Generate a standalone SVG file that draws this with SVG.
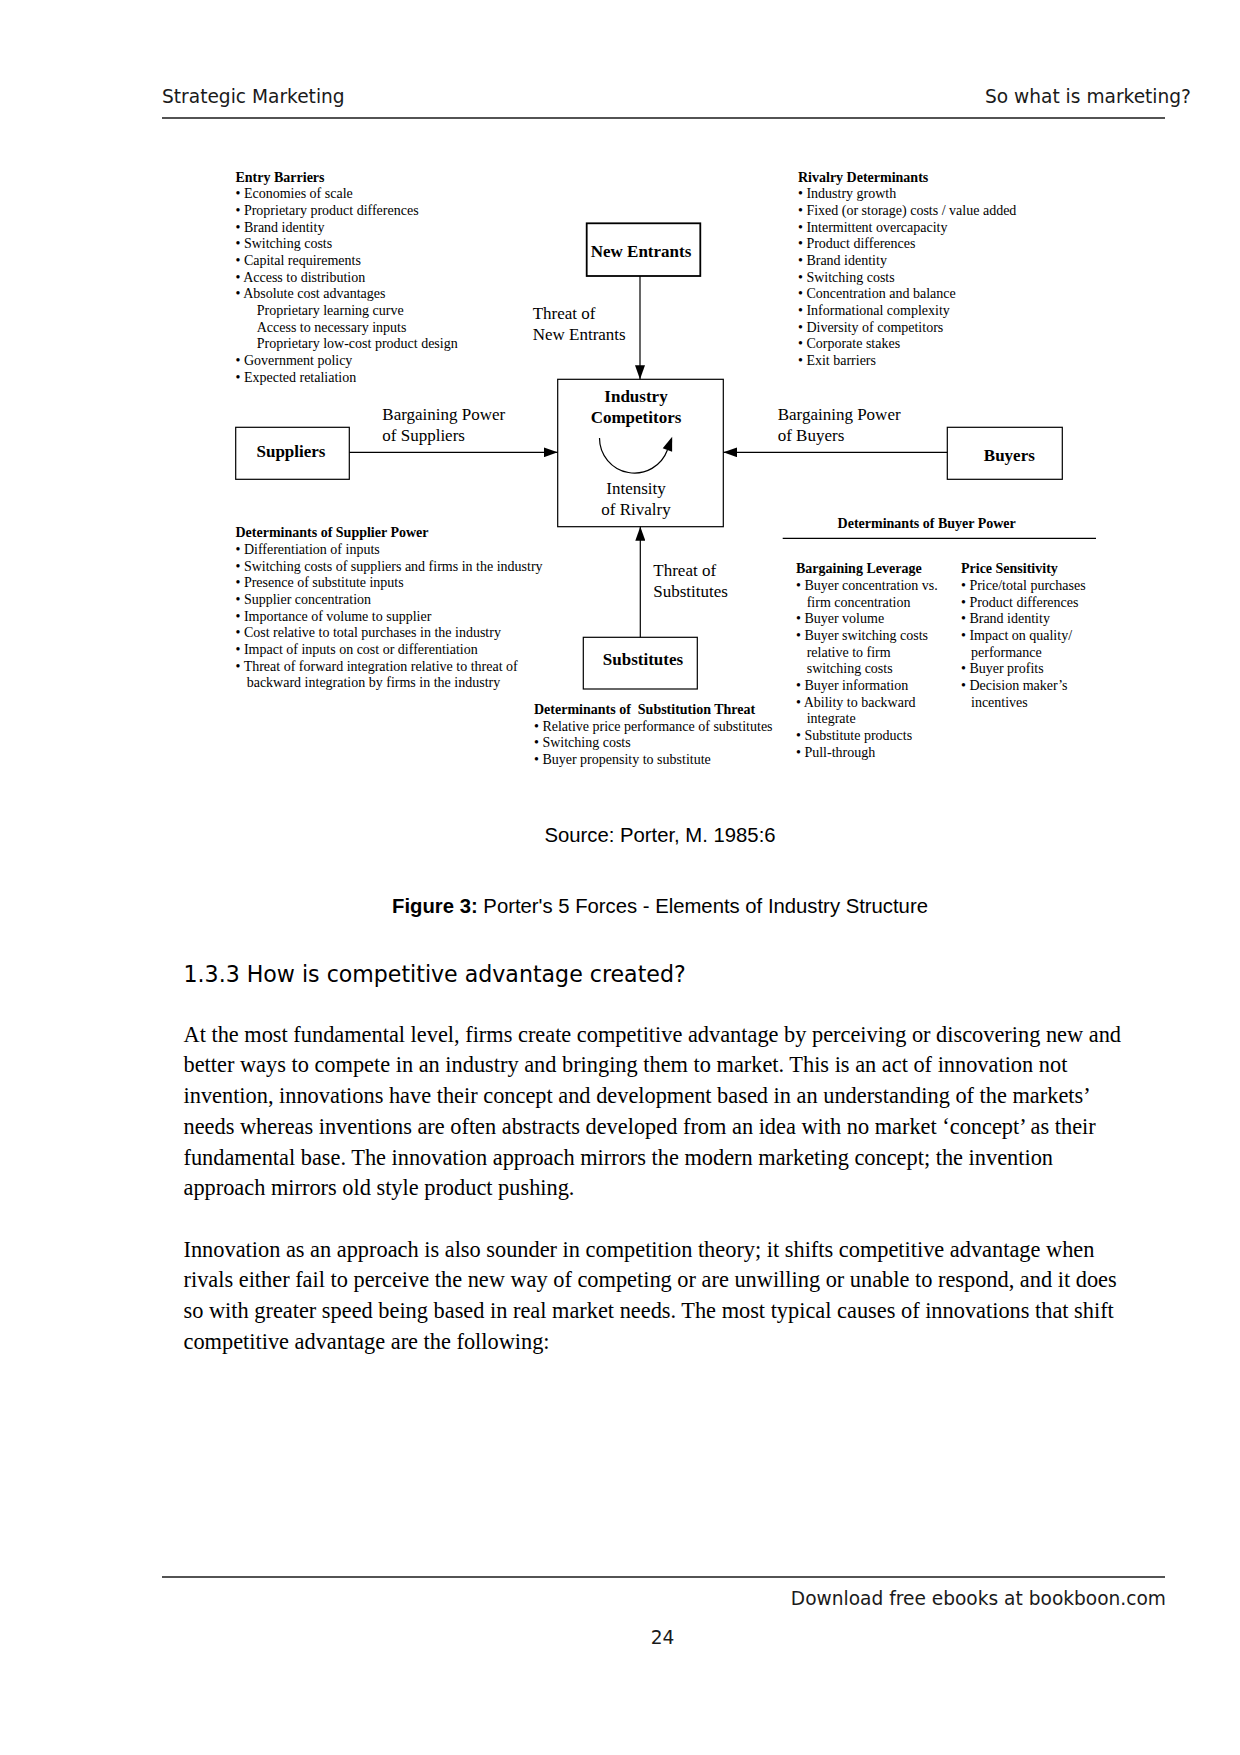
<svg xmlns="http://www.w3.org/2000/svg" width="1240" height="1755" viewBox="0 0 1240 1755">
<defs>
<style>
.hdr{font-family:"DejaVu Sans",sans-serif;font-size:18.6px;fill:#1a1a1a}
.s{font-family:"Liberation Serif","Times New Roman",serif;font-size:14px;fill:#000}
.sb{font-family:"Liberation Serif","Times New Roman",serif;font-size:14px;font-weight:bold;fill:#000}
.lbl{font-family:"Liberation Serif","Times New Roman",serif;font-size:17px;fill:#000}
.nb{font-family:"Liberation Serif","Times New Roman",serif;font-size:17px;font-weight:bold;fill:#000}
.box{fill:#fff;stroke:#000;stroke-width:1.2}
.conn{stroke:#000;stroke-width:1.2;fill:none}
.cap{font-family:"Liberation Sans",Arial,sans-serif;font-size:20.3px;fill:#000}
.h{font-family:"DejaVu Sans",sans-serif;font-size:22.1px;fill:#000}
.body{font-family:"Liberation Serif","Times New Roman",serif;font-size:22.35px;fill:#000}
</style>
<marker id="ah" markerUnits="userSpaceOnUse" markerWidth="14" markerHeight="10" refX="14" refY="5" orient="auto">
<path d="M0,0 L14,5 L0,10 Z" fill="#000"/>
</marker>
</defs>
<rect width="1240" height="1755" fill="#fff"/>

<g id="header">
<text class="hdr" x="162" y="103">Strategic Marketing</text>
<text class="hdr" x="1191" y="103" text-anchor="end">So what is marketing?</text>
<line x1="162" y1="118" x2="1165" y2="118" stroke="#1a1a1a" stroke-width="1.3"/>
</g>

<g id="entry-barriers">
<text class="sb" x="235.5" y="181.5">Entry Barriers</text>
<text class="s" x="235.5" y="198.2">• Economies of scale</text>
<text class="s" x="235.5" y="214.8">• Proprietary product differences</text>
<text class="s" x="235.5" y="231.5">• Brand identity</text>
<text class="s" x="235.5" y="248.2">• Switching costs</text>
<text class="s" x="235.5" y="264.8">• Capital requirements</text>
<text class="s" x="235.5" y="281.5">• Access to distribution</text>
<text class="s" x="235.5" y="298.2">• Absolute cost advantages</text>
<text class="s" x="256.7" y="314.9">Proprietary learning curve</text>
<text class="s" x="256.7" y="331.5">Access to necessary inputs</text>
<text class="s" x="256.7" y="348.2">Proprietary low-cost product design</text>
<text class="s" x="235.5" y="364.9">• Government policy</text>
<text class="s" x="235.5" y="381.5">• Expected retaliation</text>
</g>

<g id="rivalry-determinants">
<text class="sb" x="798" y="181.5">Rivalry Determinants</text>
<text class="s" x="798" y="198.2">• Industry growth</text>
<text class="s" x="798" y="214.8">• Fixed (or storage) costs / value added</text>
<text class="s" x="798" y="231.5">• Intermittent overcapacity</text>
<text class="s" x="798" y="248.2">• Product differences</text>
<text class="s" x="798" y="264.8">• Brand identity</text>
<text class="s" x="798" y="281.5">• Switching costs</text>
<text class="s" x="798" y="298.2">• Concentration and balance</text>
<text class="s" x="798" y="314.9">• Informational complexity</text>
<text class="s" x="798" y="331.5">• Diversity of competitors</text>
<text class="s" x="798" y="348.2">• Corporate stakes</text>
<text class="s" x="798" y="364.9">• Exit barriers</text>
</g>

<g id="new-entrants">
<rect x="586.7" y="223.3" width="113.6" height="52.7" fill="#fff" stroke="#000" stroke-width="1.8"/>
<text class="nb" x="641" y="257.3" text-anchor="middle">New Entrants</text>
</g>

<g id="industry-competitors">
<rect class="box" x="557.7" y="379.3" width="165.6" height="147.4"/>
<text class="nb" x="636" y="402.3" text-anchor="middle">Industry</text>
<text class="nb" x="636" y="423.3" text-anchor="middle">Competitors</text>
<path class="conn" d="M599.5,438 A35,35 0 0 0 667.4,450"/>
<polygon points="672.2,436.8 672.1,451.7 662.7,448.3" fill="#000"/>
<text class="lbl" x="636" y="494" text-anchor="middle">Intensity</text>
<text class="lbl" x="636" y="515" text-anchor="middle">of Rivalry</text>
</g>

<g id="suppliers">
<rect class="box" x="235.7" y="427.3" width="113.6" height="52"/>
<text class="nb" x="291" y="457.3" text-anchor="middle">Suppliers</text>
</g>

<g id="buyers">
<rect class="box" x="947.3" y="427.3" width="115" height="52"/>
<text class="nb" x="1009.3" y="460.5" text-anchor="middle">Buyers</text>
</g>

<g id="substitutes">
<rect class="box" x="583.3" y="637.3" width="114" height="51.7"/>
<text class="nb" x="643" y="665" text-anchor="middle">Substitutes</text>
</g>

<g id="connectors">
<line class="conn" x1="640" y1="276" x2="640" y2="379.3" marker-end="url(#ah)"/>
<line class="conn" x1="349.3" y1="452.3" x2="557.7" y2="452.3" marker-end="url(#ah)"/>
<line class="conn" x1="947.3" y1="452.3" x2="723.3" y2="452.3" marker-end="url(#ah)"/>
<line class="conn" x1="640.3" y1="637.3" x2="640.3" y2="526.7" marker-end="url(#ah)"/>
</g>

<g id="connector-labels">
<text class="lbl" x="532.7" y="318.5">Threat of</text>
<text class="lbl" x="532.7" y="339.5">New Entrants</text>
<text class="lbl" x="382.3" y="420">Bargaining Power</text>
<text class="lbl" x="382.3" y="440.5">of Suppliers</text>
<text class="lbl" x="777.7" y="420">Bargaining Power</text>
<text class="lbl" x="777.7" y="440.5">of Buyers</text>
<text class="lbl" x="653.3" y="576">Threat of</text>
<text class="lbl" x="653.3" y="596.7">Substitutes</text>
</g>

<g id="supplier-power">
<text class="sb" x="235.5" y="537.3">Determinants of Supplier Power</text>
<text class="s" x="235.5" y="554">• Differentiation of inputs</text>
<text class="s" x="235.5" y="570.6">• Switching costs of suppliers and firms in the industry</text>
<text class="s" x="235.5" y="587.3">• Presence of substitute inputs</text>
<text class="s" x="235.5" y="604">• Supplier concentration</text>
<text class="s" x="235.5" y="620.6">• Importance of volume to supplier</text>
<text class="s" x="235.5" y="637.3">• Cost relative to total purchases in the industry</text>
<text class="s" x="235.5" y="654">• Impact of inputs on cost or differentiation</text>
<text class="s" x="235.5" y="670.7">• Threat of forward integration relative to threat of</text>
<text class="s" x="246.7" y="687.3">backward integration by firms in the industry</text>
</g>

<g id="substitution-threat">
<text class="sb" x="534" y="714" xml:space="preserve">Determinants of  Substitution Threat</text>
<text class="s" x="534" y="730.7">• Relative price performance of substitutes</text>
<text class="s" x="534" y="747.3">• Switching costs</text>
<text class="s" x="534" y="764">• Buyer propensity to substitute</text>
</g>

<g id="buyer-power">
<text class="sb" x="926.7" y="528.3" text-anchor="middle">Determinants of Buyer Power</text>
<line x1="782.7" y1="538.3" x2="1096" y2="538.3" stroke="#000" stroke-width="1.2"/>
<text class="sb" x="796" y="573.3">Bargaining Leverage</text>
<text class="s" x="796" y="590">• Buyer concentration vs.</text>
<text class="s" x="806.7" y="606.6">firm concentration</text>
<text class="s" x="796" y="623.3">• Buyer volume</text>
<text class="s" x="796" y="640">• Buyer switching costs</text>
<text class="s" x="806.7" y="656.7">relative to firm</text>
<text class="s" x="806.7" y="673.3">switching costs</text>
<text class="s" x="796" y="690">• Buyer information</text>
<text class="s" x="796" y="706.7">• Ability to backward</text>
<text class="s" x="806.7" y="723.3">integrate</text>
<text class="s" x="796" y="740">• Substitute products</text>
<text class="s" x="796" y="756.7">• Pull-through</text>
<text class="sb" x="961" y="573.3">Price Sensitivity</text>
<text class="s" x="961" y="590">• Price/total purchases</text>
<text class="s" x="961" y="606.6">• Product differences</text>
<text class="s" x="961" y="623.3">• Brand identity</text>
<text class="s" x="961" y="640">• Impact on quality/</text>
<text class="s" x="971" y="656.7">performance</text>
<text class="s" x="961" y="673.3">• Buyer profits</text>
<text class="s" x="961" y="690">• Decision maker’s</text>
<text class="s" x="971" y="706.7">incentives</text>
</g>

<g id="captions">
<text class="cap" x="660" y="841.5" text-anchor="middle">Source: Porter, M. 1985:6</text>
<text class="cap" x="660" y="912.5" text-anchor="middle"><tspan font-weight="bold">Figure 3:</tspan> Porter's 5 Forces - Elements of Industry Structure</text>
</g>

<g id="body">
<text class="h" x="183.5" y="982">1.3.3 How is competitive advantage created?</text>
<text class="body" x="183.5" y="1041.7">At the most fundamental level, firms create competitive advantage by perceiving or discovering new and</text>
<text class="body" x="183.5" y="1072.4">better ways to compete in an industry and bringing them to market. This is an act of innovation not</text>
<text class="body" x="183.5" y="1103.1">invention, innovations have their concept and development based in an understanding of the markets’</text>
<text class="body" x="183.5" y="1133.8">needs whereas inventions are often abstracts developed from an idea with no market ‘concept’ as their</text>
<text class="body" x="183.5" y="1164.5">fundamental base. The innovation approach mirrors the modern marketing concept; the invention</text>
<text class="body" x="183.5" y="1195.2">approach mirrors old style product pushing.</text>
<text class="body" x="183.5" y="1256.7">Innovation as an approach is also sounder in competition theory; it shifts competitive advantage when</text>
<text class="body" x="183.5" y="1287.4">rivals either fail to perceive the new way of competing or are unwilling or unable to respond, and it does</text>
<text class="body" x="183.5" y="1318.1">so with greater speed being based in real market needs. The most typical causes of innovations that shift</text>
<text class="body" x="183.5" y="1348.8">competitive advantage are the following:</text>
</g>

<g id="footer">
<line x1="162" y1="1577" x2="1165" y2="1577" stroke="#1a1a1a" stroke-width="1.3"/>
<text class="hdr" x="1166" y="1604.5" text-anchor="end">Download free ebooks at bookboon.com</text>
<text class="hdr" x="662.5" y="1644" text-anchor="middle">24</text>
</g>
</svg>
